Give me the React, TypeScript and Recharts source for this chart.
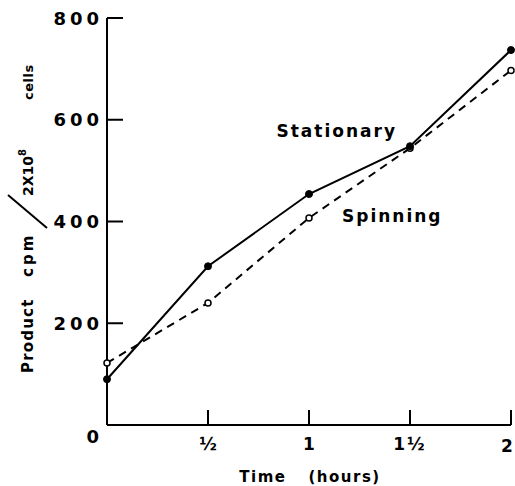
import { Line, LineChart, XAxis, YAxis, LabelList } from "recharts";

// hours after start
const TIME = [0, 0.5, 1, 1.5, 2];
// product cpm per 2x10^8 cells
const STATIONARY = [90, 312, 454, 548, 737];
const SPINNING = [122, 240, 407, 544, 697];

const X_TICKS = [0, 0.5, 1, 1.5, 2];
const X_TICK_LABELS = ["0", "½", "1", "1½", "2"];
const Y_TICKS = [0, 200, 400, 600, 800];

const FONT = "'DejaVu Sans', sans-serif";
const INK = "#000";

const data = TIME.map((t, i) => ({
  t,
  stationary: STATIONARY[i],
  spinning: SPINNING[i],
}));

function XTick(props: any) {
  const { x, y, payload } = props;
  const i = X_TICKS.indexOf(payload.value);
  const axisY = y - 12;
  if (payload.value === 0) return null;
  const last = i === X_TICKS.length - 1;
  return (
    <g>
      <line x1={x} y1={axisY} x2={x} y2={axisY - 15} stroke={INK} strokeWidth={2} />
      <text
        x={last ? x - 4 : x}
        y={y}
        dy={last ? 14.5 : 12.5}
        textAnchor="middle"
        fontFamily={FONT}
        fontWeight="bold"
        fontSize={17}
        letterSpacing={payload.value === 1.5 ? 2 : 0}
        fill={INK}
      >
        {X_TICK_LABELS[i]}
      </text>
    </g>
  );
}

function YTick(props: any) {
  const { x, y, payload } = props;
  const axisX = x + 8;
  const isZero = payload.value === 0;
  return (
    <g>
      {!isZero && (
        <line x1={axisX} y1={y} x2={axisX + 16} y2={y} stroke={INK} strokeWidth={2} />
      )}
      <text
        x={x + 4}
        y={y}
        dy={isZero ? 18 : 6.5}
        textAnchor="end"
        fontFamily={FONT}
        fontWeight="bold"
        fontSize={18}
        letterSpacing={4}
        fill={INK}
      >
        {payload.value}
      </text>
    </g>
  );
}

// rotated axis title: "Product cpm / 2X10^8 cells"
function YTitle(props: any) {
  const vb = props.viewBox;
  const ox = vb.x + 33;
  const oy = vb.y + vb.height / 2 + 2.5;
  return (
    <g>
      <text
        transform={`rotate(-90 ${ox} ${oy})`}
        fontFamily={FONT}
        fontWeight="bold"
        fill={INK}
      >
        <tspan x={ox - 149} y={oy} fontSize={15} letterSpacing={1.2}>Product</tspan>
        <tspan x={ox - 53} y={oy} fontSize={15} letterSpacing={3}>cpm</tspan>
        <tspan x={ox + 28} y={oy} fontSize={14}>2X10</tspan>
        <tspan x={ox + 68} y={oy - 7} fontSize={10}>8</tspan>
        <tspan x={ox + 124} y={oy} fontSize={13} letterSpacing={0.5}>cells</tspan>
      </text>
      <line x1={ox + 14} y1={oy + 4} x2={ox - 25} y2={oy - 29} stroke={INK} strokeWidth={2} />
    </g>
  );
}

function XTitle(props: any) {
  const vb = props.viewBox;
  const cx = vb.x + vb.width / 2 + 1;
  return (
    <text
      x={cx}
      y={vb.y + 57}
      textAnchor="middle"
      fontFamily={FONT}
      fontWeight="bold"
      fontSize={15}
      letterSpacing={1.5}
      fill={INK}
    >
      <tspan>Time</tspan>
      <tspan dx={22}>(hours)</tspan>
    </text>
  );
}

function seriesName(name: string, at: number, dx: number, dy: number, anchor: "start" | "end") {
  return function SeriesName(props: any) {
    if (props.index !== at) return null;
    const vb = props.viewBox || {};
    const px = vb.x ?? props.x;
    const py = vb.y ?? props.y;
    return (
      <text
        x={px + dx}
        y={py + dy}
        textAnchor={anchor}
        fontFamily={FONT}
        fontWeight="bold"
        fontSize={17}
        letterSpacing={2}
        fill={INK}
      >
        {name}
      </text>
    );
  };
}

export default function App() {
  return (
    <div style={{ position: "absolute", left: 0, top: 0, width: 515, height: 486, background: "#fff" }}>
      <LineChart width={515} height={486} data={data} margin={{ top: 18, right: 4, bottom: 0, left: 0 }}>
        <XAxis
          dataKey="t"
          type="number"
          domain={[0, 2]}
          ticks={X_TICKS}
          interval={0}
          height={61}
          tickLine={false}
          tickSize={0}
          tickMargin={12}
          axisLine={{ stroke: INK, strokeWidth: 2 }}
          tick={XTick}
          label={XTitle}
        />
        <YAxis
          type="number"
          domain={[0, 800]}
          ticks={Y_TICKS}
          interval={0}
          width={107}
          tickLine={false}
          tickSize={0}
          tickMargin={8}
          axisLine={{ stroke: INK, strokeWidth: 2 }}
          tick={YTick}
          label={YTitle}
        />
        <Line
          dataKey="spinning"
          stroke={INK}
          strokeWidth={2}
          strokeDasharray="8 6"
          dot={{ r: 3, fill: "#fff", stroke: INK, strokeWidth: 1.5, strokeDasharray: "none" }}
          activeDot={false}
          isAnimationActive={false}
        >
          <LabelList dataKey="spinning" content={seriesName("Spinning", 2, 33, 4, "start")} />
        </Line>
        <Line
          dataKey="stationary"
          stroke={INK}
          strokeWidth={2}
          dot={{ r: 3.5, fill: INK, stroke: INK, strokeWidth: 1 }}
          activeDot={false}
          isAnimationActive={false}
        >
          <LabelList dataKey="stationary" content={seriesName("Stationary", 3, -13, -9, "end")} />
        </Line>
      </LineChart>
    </div>
  );
}
